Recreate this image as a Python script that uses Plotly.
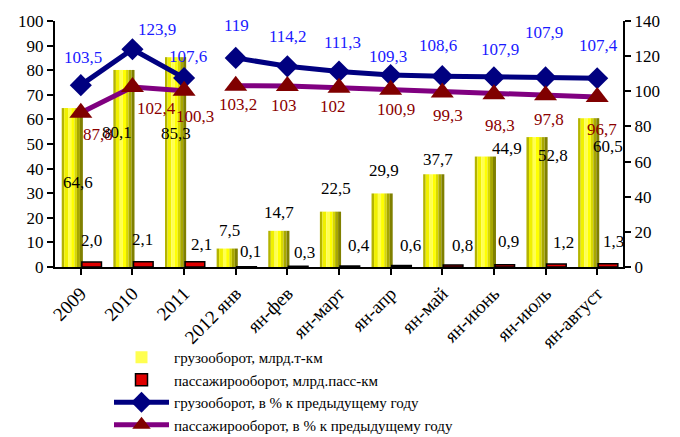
import plotly.graph_objects as go

categories = ["2009", "2010", "2011", "2012 янв", "ян-фев", "ян-март", "ян-апр",
              "ян-май", "ян-июнь", "ян-июль", "ян-август"]
freight = [64.6, 80.1, 85.3, 7.5, 14.7, 22.5, 29.9, 37.7, 44.9, 52.8, 60.5]
passenger = [2.0, 2.1, 2.1, 0.1, 0.3, 0.4, 0.6, 0.8, 0.9, 1.2, 1.3]
freight_pct = [103.5, 123.9, 107.6, 119, 114.2, 111.3, 109.3, 108.6, 107.9, 107.9, 107.4]
passenger_pct = [87.8, 102.4, 100.3, 103.2, 103, 102, 100.9, 99.3, 98.3, 97.8, 96.7]

names = ["грузооборот, млрд.т-км", "пассажирооборот, млрд.пасс-км",
         "грузооборот, в % к предыдущему году", "пассажирооборот, в % к предыдущему году"]

# label pixel offsets (style only)
freight_off = [(-3, -74), (-15, -63), (-8, -76), (-6, 18), (-8, 18), (-3, 23), (-7, 23),
               (-4, 15), (13, 8), (7, -18), (11, -28)]
pass_off = [(11, 22), (10, 22), (17, 17), (15, 15), (17, 14), (20, 21), (20, 20),
            (20, 20), (15, 23), (18, 22), (16, 22)]
fpct_off = [(2, 28), (25, 20), (4, 21), (1, 32), (1, 30), (3, 29), (-3, 18), (-4, 31),
            (6, 28), (-2, 45), (1, 33)]
ppct_off = [(17, -22), (24, -21), (11, -26), (2, -19), (-3, -19), (-6, -19), (5, -20),
            (6, -23), (6, -31), (3, -24), (5, -32)]

FONT = "Liberation Serif"
xi = list(range(len(categories)))

fig = go.Figure()

# yellow bars as cylindrical stripes
y_left, y_w = -0.37, 0.41
stripes = [(0.0, 0.12, "#b4b400"), (0.12, 0.30, "#f0f000"), (0.30, 0.45, "#ffff50"),
           (0.45, 0.60, "#ffff00"), (0.60, 0.72, "#d8d800"), (0.72, 0.86, "#a8a800"),
           (0.86, 1.0, "#808000")]
for k, (a, b, col) in enumerate(stripes):
    fig.add_trace(go.Bar(
        x=xi, y=freight, offset=y_left + a * y_w, width=(b - a) * y_w,
        marker=dict(color=col, line=dict(width=0)),
        name=names[0], showlegend=(k == 2), legendrank=1,
        legendgroup="f", hoverinfo="skip"))

# red bars
fig.add_trace(go.Bar(
    x=xi, y=passenger, offset=0.02, width=0.38,
    marker=dict(color="#e00000", line=dict(color="black", width=1.5)),
    name=names[1], legendrank=2))

# lines (broken between 2011 and 2012)
segs = [(0, 3), (3, len(categories))]
for s, (a, b) in enumerate(segs):
    fig.add_trace(go.Scatter(
        x=xi[a:b], y=freight_pct[a:b], yaxis="y2", mode="lines+markers",
        line=dict(color="#000080", width=5),
        marker=dict(symbol="diamond", size=17, color="#000080"),
        name=names[2], showlegend=(s == 0), legendgroup="fp", legendrank=3))
for s, (a, b) in enumerate(segs):
    fig.add_trace(go.Scatter(
        x=xi[a:b], y=passenger_pct[a:b], yaxis="y2", mode="lines+markers",
        line=dict(color="#800080", width=5),
        marker=dict(symbol="triangle-up", size=20, color="#800000"),
        name=names[3], showlegend=(s == 0), legendgroup="pp", legendrank=4))

def fmt1(v):
    return f"{v:.1f}".replace(".", ",")

def fmtg(v):
    return f"{v:g}".replace(".", ",")

ann = []
for i in xi:
    ann.append(dict(x=i, y=freight[i], xref="x", yref="y", text=fmt1(freight[i]),
                    xshift=freight_off[i][0], yshift=freight_off[i][1], showarrow=False,
                    font=dict(family=FONT, size=17, color="black")))
    ann.append(dict(x=i, y=passenger[i], xref="x", yref="y", text=fmt1(passenger[i]),
                    xshift=pass_off[i][0], yshift=pass_off[i][1], showarrow=False,
                    font=dict(family=FONT, size=17, color="black")))
    ann.append(dict(x=i, y=freight_pct[i], xref="x", yref="y2", text=fmtg(freight_pct[i]),
                    xshift=fpct_off[i][0], yshift=fpct_off[i][1], showarrow=False,
                    font=dict(family=FONT, size=17, color="#1a1aff")))
    ann.append(dict(x=i, y=passenger_pct[i], xref="x", yref="y2", text=fmtg(passenger_pct[i]),
                    xshift=ppct_off[i][0], yshift=ppct_off[i][1], showarrow=False,
                    font=dict(family=FONT, size=17, color="#8b0000")))

axis_common = dict(showgrid=False, zeroline=False, showline=True, linecolor="black",
                   linewidth=2, ticks="outside", ticklen=6, tickwidth=2,
                   tickcolor="black", automargin=False)

fig.update_layout(
    width=680, height=437,
    margin=dict(l=55, r=57, t=21, b=170, autoexpand=False),
    paper_bgcolor="white", plot_bgcolor="white",
    barmode="overlay",
    font=dict(family=FONT, size=16, color="black"),
    xaxis=dict(
        tickmode="array", tickvals=xi, ticktext=categories,
        range=[-0.5, len(categories) - 0.5], tickangle=-45,
        tickfont=dict(family=FONT, size=19), **axis_common),
    yaxis=dict(range=[0, 100], dtick=10, tickfont=dict(family=FONT, size=17),
               **axis_common),
    yaxis2=dict(range=[0, 140], dtick=20, overlaying="y", side="right",
                tickfont=dict(family=FONT, size=17), **axis_common),
    legend=dict(x=(109 - 55) / 568, y=(267 - 341) / 246,
                xanchor="left", yanchor="top",
                font=dict(family=FONT, size=15), itemwidth=55,
                tracegroupgap=0, bgcolor="rgba(0,0,0,0)"),
    annotations=ann,
)

fig.write_html("out.html", config={"displayModeBar": False},
               post_script="document.body.style.margin='0';document.body.style.overflow='hidden';")
